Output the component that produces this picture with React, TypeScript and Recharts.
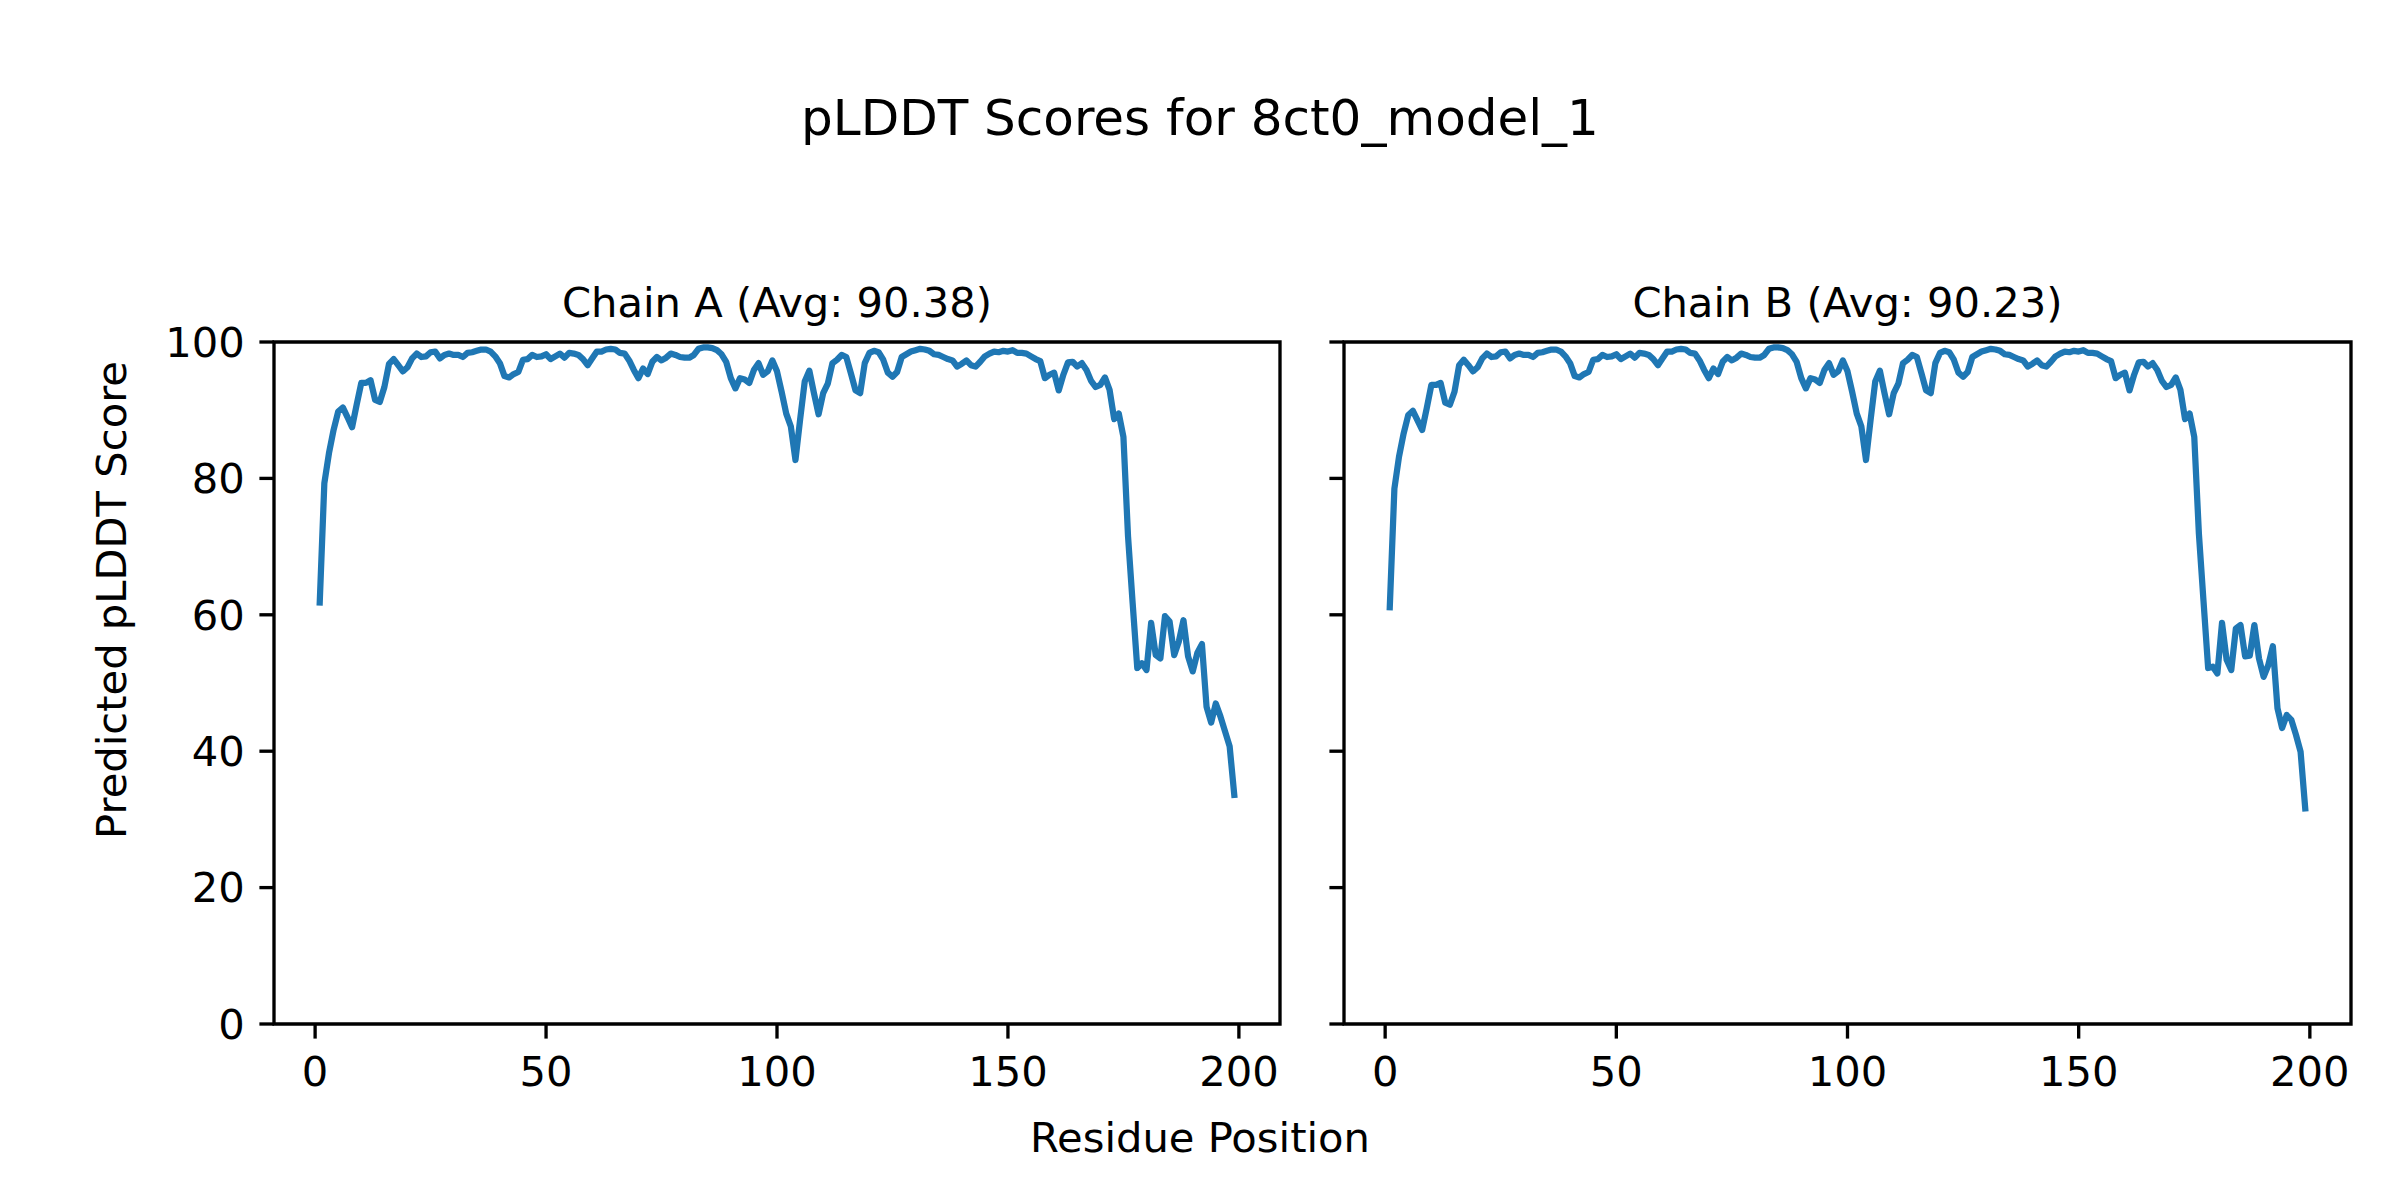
import React from 'react';
import { LineChart, Line, XAxis, YAxis, ReferenceArea } from 'recharts';

// residue numbers 1..199
const residues: number[] = Array.from({ length: 199 }, (_, i) => i + 1);

// pLDDT per residue
const chainA: number[] = [
  61.8, 79.3, 83.7, 87.1, 89.8, 90.4, 89.0, 87.5, 90.8, 94.0,
  94.0, 94.4, 91.5, 91.2, 93.4, 96.8, 97.5, 96.6, 95.7, 96.3,
  97.6, 98.3, 97.8, 97.9, 98.5, 98.6, 97.6, 98.1, 98.3, 98.1,
  98.1, 97.8, 98.4, 98.5, 98.7, 98.9, 98.9, 98.6, 97.9, 96.9,
  95.0, 94.8, 95.3, 95.6, 97.4, 97.5, 98.1, 97.8, 97.9, 98.2,
  97.5, 97.9, 98.3, 97.7, 98.4, 98.3, 98.1, 97.5, 96.6, 97.6,
  98.6, 98.6, 98.9, 99.0, 98.9, 98.4, 98.3, 97.3, 95.9, 94.7,
  96.1, 95.3, 97.1, 97.8, 97.3, 97.7, 98.3, 98.1, 97.8, 97.7,
  97.7, 98.1, 99.0, 99.2, 99.2, 99.1, 98.8, 98.2, 97.1, 94.7,
  93.2, 94.7, 94.5, 94.0, 95.9, 96.9, 95.2, 95.7, 97.3, 95.7,
  92.7, 89.5, 87.6, 82.7, 88.6, 94.2, 95.8, 92.5, 89.4, 92.5,
  93.9, 96.9, 97.4, 98.1, 97.8, 95.4, 92.9, 92.5, 96.9, 98.4,
  98.7, 98.5, 97.4, 95.5, 94.9, 95.6, 97.8, 98.2, 98.6, 98.8,
  99.0, 98.9, 98.7, 98.2, 98.1, 97.8, 97.5, 97.3, 96.4, 96.8,
  97.3, 96.6, 96.4, 97.1, 97.9, 98.3, 98.6, 98.5, 98.7, 98.6,
  98.8, 98.4, 98.4, 98.3, 97.9, 97.5, 97.2, 94.7, 95.2, 95.5,
  92.9, 95.2, 97.0, 97.1, 96.4, 96.9, 95.9, 94.3, 93.4, 93.7,
  94.8, 93.0, 88.7, 89.5, 86.1, 71.5, 61.7, 52.2, 52.9, 51.9,
  58.8, 54.1, 53.6, 59.8, 59.0, 54.1, 56.1, 59.2, 53.9, 51.7,
  54.4, 55.7, 46.5, 44.2, 47.0, 45.1, 42.9, 40.7, 33.6,
];

const chainB: number[] = [
  61.1, 78.5, 83.2, 86.6, 89.3, 89.9, 88.5, 87.1, 90.3, 93.7,
  93.7, 94.0, 91.1, 90.8, 92.7, 96.6, 97.4, 96.6, 95.7, 96.3,
  97.6, 98.3, 97.8, 97.9, 98.5, 98.6, 97.6, 98.1, 98.3, 98.1,
  98.1, 97.8, 98.4, 98.5, 98.7, 98.9, 98.9, 98.6, 97.9, 96.9,
  95.0, 94.8, 95.3, 95.6, 97.4, 97.5, 98.1, 97.8, 97.9, 98.2,
  97.5, 97.9, 98.3, 97.7, 98.4, 98.3, 98.1, 97.5, 96.6, 97.6,
  98.6, 98.6, 98.9, 99.0, 98.9, 98.4, 98.3, 97.3, 95.9, 94.7,
  96.1, 95.3, 97.1, 97.8, 97.3, 97.7, 98.3, 98.1, 97.8, 97.7,
  97.7, 98.1, 99.0, 99.2, 99.2, 99.1, 98.8, 98.2, 97.1, 94.7,
  93.2, 94.7, 94.5, 94.0, 95.9, 96.9, 95.2, 95.7, 97.3, 95.7,
  92.7, 89.5, 87.6, 82.7, 88.6, 94.2, 95.8, 92.5, 89.4, 92.5,
  93.9, 96.9, 97.4, 98.1, 97.8, 95.4, 92.9, 92.5, 96.9, 98.4,
  98.7, 98.5, 97.4, 95.5, 94.9, 95.6, 97.8, 98.2, 98.6, 98.8,
  99.0, 98.9, 98.7, 98.2, 98.1, 97.8, 97.5, 97.3, 96.4, 96.8,
  97.3, 96.6, 96.4, 97.1, 97.9, 98.3, 98.6, 98.5, 98.7, 98.6,
  98.8, 98.4, 98.4, 98.3, 97.9, 97.5, 97.2, 94.7, 95.2, 95.5,
  92.9, 95.2, 97.0, 97.1, 96.4, 96.9, 95.9, 94.3, 93.4, 93.7,
  94.8, 93.0, 88.7, 89.5, 86.1, 71.9, 62.0, 52.2, 52.4, 51.4,
  58.8, 53.4, 51.9, 58.0, 58.5, 53.9, 54.0, 58.5, 53.6, 50.9,
  52.6, 55.4, 46.3, 43.4, 45.3, 44.6, 42.4, 39.9, 31.6,
];

const xTicks = [0, 50, 100, 150, 200];
const yTicks = [0, 20, 40, 60, 80, 100];
const chainTitles = ['Chain A (Avg: 90.38)', 'Chain B (Avg: 90.23)'];

const FONT = 'DejaVu Sans';
const BLUE = '#1f77b4';
const XDOM: [number, number] = [-8.9, 208.9];
const tickFont = { fill: '#000', fontSize: 41.67, fontFamily: FONT };

// shared y axis: right panel keeps the tick marks but not the labels
const NoLabel = () => <g />;

function Panel({ values, showY, left, width, yAxisWidth, right }: any) {
  const rows = residues.map((r, i) => ({ residue: r, score: values[i] }));
  return (
    <div style={{ position: 'absolute', left, top: 0 }}>
      <LineChart
        width={width}
        height={1200}
        data={rows}
        margin={{ top: 342, right, bottom: 76, left: 0 }}
      >
        <XAxis
          dataKey="residue"
          type="number"
          domain={XDOM}
          allowDataOverflow
          ticks={xTicks}
          height={100}
          axisLine={false}
          tickSize={14.6}
          tickMargin={18}
          tickLine={{ stroke: '#000', strokeWidth: 3.33 }}
          tick={tickFont}
        />
        <YAxis
          type="number"
          domain={[0, 100]}
          ticks={yTicks}
          width={yAxisWidth}
          axisLine={false}
          tickSize={14.6}
          tickMargin={14.6}
          tickLine={{ stroke: '#000', strokeWidth: 3.33 }}
          tick={showY ? tickFont : NoLabel}
        />
        <Line
          type="linear"
          dataKey="score"
          stroke={BLUE}
          strokeWidth={6.25}
          strokeLinejoin="round"
          strokeLinecap="square"
          dot={false}
          activeDot={false}
          isAnimationActive={false}
        />
        <ReferenceArea
          x1={XDOM[0]}
          x2={XDOM[1]}
          y1={0}
          y2={100}
          fill="none"
          fillOpacity={0}
          stroke="#000"
          strokeWidth={3.33}
          ifOverflow="visible"
        />
      </LineChart>
    </div>
  );
}

export default function App() {
  return (
    <div style={{ position: 'absolute', left: 0, top: 0, width: 2400, height: 1200, background: '#fff' }}>
      <Panel values={chainA} showY left={0} width={1300} yAxisWidth={274} right={20} />
      <Panel values={chainB} showY={false} left={1300} width={1100} yAxisWidth={44} right={49} />
      <svg
        width={2400}
        height={1200}
        style={{ position: 'absolute', left: 0, top: 0, pointerEvents: 'none' }}
        fontFamily={FONT}
      >
        <text x={1200} y={135} textAnchor="middle" fontSize={50} fill="#000">
          pLDDT Scores for 8ct0_model_1
        </text>
        <text x={777} y={317} textAnchor="middle" fontSize={41.67} fill="#000">
          {chainTitles[0]}
        </text>
        <text x={1847.5} y={317} textAnchor="middle" fontSize={41.67} fill="#000">
          {chainTitles[1]}
        </text>
        <text x={1200} y={1152} textAnchor="middle" fontSize={41.67} fill="#000">
          Residue Position
        </text>
        <text
          x={0}
          y={0}
          textAnchor="middle"
          fontSize={41.67}
          fill="#000"
          transform="translate(126,600) rotate(-90)"
        >
          Predicted pLDDT Score
        </text>
      </svg>
    </div>
  );
}
